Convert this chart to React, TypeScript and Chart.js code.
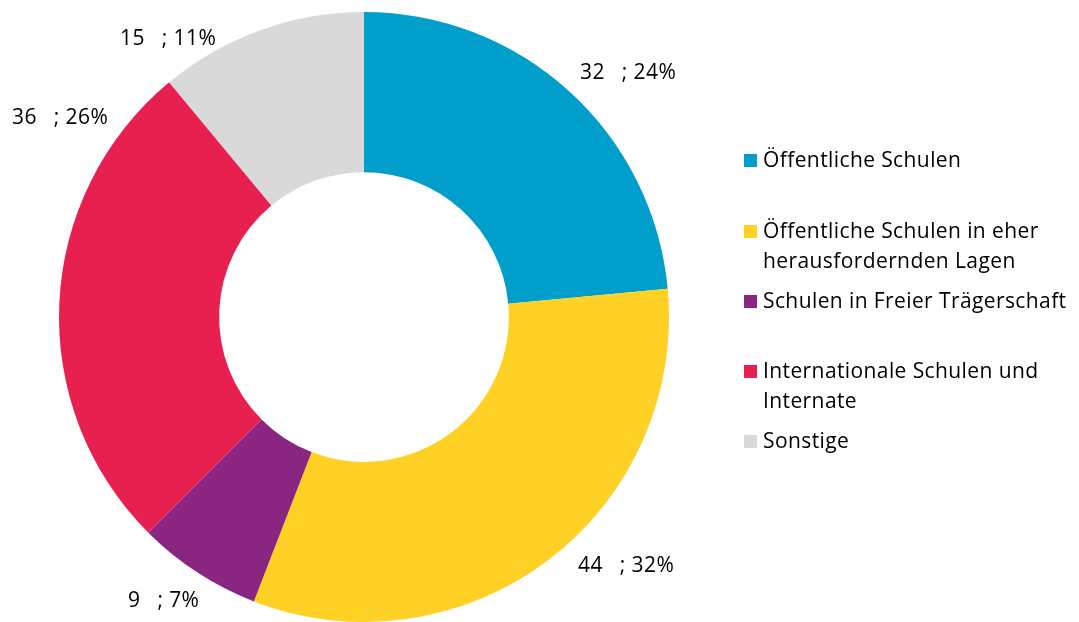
import React, { useEffect, useRef } from "react";
import { Chart, registerables } from "chart.js";

Chart.register(...registerables);

const categories: string[][] = [
  ["Öffentliche Schulen"],
  ["Öffentliche Schulen in eher", "herausfordernden Lagen"],
  ["Schulen in Freier Trägerschaft"],
  ["Internationale Schulen und", "Internate"],
  ["Sonstige"],
];
const values: number[] = [32, 44, 9, 36, 15];
const colors: string[] = ["#009FCB", "#FFD124", "#8A2582", "#E8204F", "#D9D9D9"];

// label anchor (left x of text, vertical middle y)
const labelPos: [number, number][] = [
  [580, 73],
  [578, 566],
  [128, 601],
  [12, 118],
  [120, 39],
];
// legend first-line middle y for each item
const legendY: number[] = [161, 232, 302, 372, 442];

const FONT = "21px 'Open Sans', Lato, sans-serif";

const overlayPlugin = {
  id: "overlay",
  afterDraw(chart: any) {
    const ctx = chart.ctx as CanvasRenderingContext2D;
    const total = values.reduce((a, b) => a + b, 0);
    ctx.save();
    ctx.font = FONT;
    (ctx as any).letterSpacing = "0.4px";
    ctx.fillStyle = "#000000";
    ctx.textBaseline = "middle";
    ctx.textAlign = "left";
    values.forEach((v, i) => {
      const [x, y] = labelPos[i];
      const num = String(v);
      ctx.fillText(num, x, y);
      const w = ctx.measureText(num).width;
      const pct = Math.round((v / total) * 100);
      ctx.fillText("; " + pct + "%", x + w + 17, y);
    });
    // legend
    categories.forEach((lines, i) => {
      const y0 = legendY[i];
      ctx.fillStyle = colors[i];
      ctx.fillRect(744, y0 - 7, 13, 13);
      ctx.fillStyle = "#000000";
      lines.forEach((ln, j) => {
        ctx.fillText(ln, 763, y0 + j * 30);
      });
    });
    ctx.restore();
  },
};

export default function App() {
  const ref = useRef<HTMLCanvasElement | null>(null);
  useEffect(() => {
    if (!ref.current) return;
    const chart = new Chart(ref.current, {
      type: "doughnut",
      data: {
        labels: categories.map((c) => c.join(" ")),
        datasets: [
          {
            data: values,
            backgroundColor: colors,
            borderWidth: 0,
            hoverOffset: 0,
          },
        ],
      },
      options: {
        responsive: false,
        animation: false,
        cutout: "47.5%",
        layout: { padding: { left: 58, right: 409, top: 12, bottom: 0 } },
        plugins: {
          legend: { display: false },
          tooltip: { enabled: false },
        },
      },
      plugins: [overlayPlugin],
    });
    return () => chart.destroy();
  }, []);
  return (
    <div style={{ position: "absolute", left: 0, top: 0, width: 1079, height: 622, background: "#ffffff" }}>
      <canvas ref={ref} width={1079} height={622} style={{ display: "block" }} />
    </div>
  );
}
